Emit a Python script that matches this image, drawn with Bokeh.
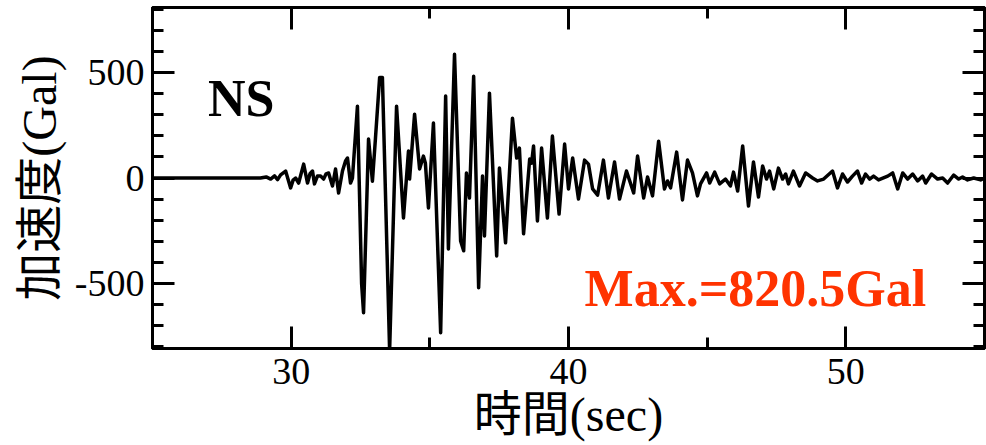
from bokeh.plotting import figure
from bokeh.models import LinearAxis, SingleIntervalTicker, Label, Range1d
from bokeh.embed import file_html
from bokeh.resources import INLINE

# ---- data ----
time_sec = [
    25.00, 28.89, 29.10, 29.26, 29.40, 29.51, 29.62, 29.80, 29.98, 30.07, 30.16, 30.27,
    30.45, 30.59, 30.68, 30.77, 30.84, 30.95, 31.06, 31.17, 31.26, 31.35, 31.49, 31.60,
    31.71, 31.85, 31.96, 32.03, 32.14, 32.21, 32.39, 32.54, 32.61, 32.79, 32.93, 33.04,
    33.19, 33.29, 33.55, 33.80, 34.05, 34.23, 34.27, 34.45, 34.63, 34.77, 34.84, 34.95,
    35.13, 35.39, 35.57, 35.67, 35.89, 36.11, 36.22, 36.32, 36.43, 36.58, 36.76, 36.90,
    36.97, 37.15, 37.41, 37.51, 37.73, 37.98, 38.13, 38.23, 38.38, 38.60, 38.67, 38.74,
    38.88, 39.03, 39.24, 39.42, 39.66, 39.86, 40.00, 40.15, 40.36, 40.58, 40.72, 40.87,
    41.05, 41.26, 41.44, 41.66, 41.84, 42.09, 42.35, 42.49, 42.71, 42.85, 43.03, 43.25,
    43.46, 43.57, 43.68, 43.90, 44.11, 44.29, 44.47, 44.65, 44.76, 44.98, 45.09, 45.27,
    45.45, 45.66, 45.84, 45.95, 46.10, 46.28, 46.49, 46.67, 46.85, 47.00, 47.14, 47.25,
    47.40, 47.57, 47.72, 47.83, 47.93, 48.11, 48.33, 48.55, 48.80, 48.98, 49.20, 49.52,
    49.70, 49.88, 50.06, 50.24, 50.42, 50.57, 50.71, 50.86, 51.00, 51.18, 51.51, 51.69,
    51.87, 52.05, 52.23, 52.41, 52.59, 52.77, 52.88, 53.09, 53.31, 53.49, 53.67, 53.89,
    54.07, 54.21, 54.39, 54.61, 54.86, 55.00,
]
accel_gal = [
    0, 0, 5, -5, 10, -8, 15, 33, -47, -10, 0, -24,
    66, -24, 20, 33, -28, 10, 9, -5, 20, 24, -38, 43,
    -71, 33, 81, 95, -24, 0, 341, -502, -640, 185, -15, 190,
    478, 478, -820.5, 341, -190, 128, -5, 303, 43, 104, 70, -142,
    261, -735, 389, -337, 588, -299, -346, 24, -95, 483, -521, 9,
    -275, 403, -370, 47, -308, 284, 95, 142, -265, 90, 71, 152,
    -204, 142, -190, 199, -171, 161, -52, 95, -100, 85, 66, -52,
    -81, 85, -95, 76, -100, 33, -71, 104, -95, 5, -85, 175,
    -52, -14, -47, 123, -104, 85, 24, -85, -28, 24, -24, 28,
    -28, -5, -38, 28, -62, 152, -133, 76, -90, 57, -5, 33,
    -52, 47, -5, 19, -28, 33, -38, 24, 0, -14, -5, 33,
    -47, 19, -19, 9, 33, -24, 19, -5, 9, -9, 9, 24,
    -52, 24, -5, 19, -14, 9, -24, 19, -5, 0, -24, 14,
    -5, 5, -9, 0, -9, 0,
]
x_ticks_major = 10
y_ticks_major = 500
label_ns = "NS"
label_max = "Max.=820.5Gal"
x_title = "時間(sec)"
y_title = "加速度(Gal)"

SERIF = "'Liberation Serif', 'Noto Sans CJK JP'"

p = figure(width=986, height=445, output_backend="svg", toolbar_location=None,
           x_range=Range1d(25, 55), y_range=Range1d(-810, 810),
           min_border_left=152, min_border_right=2, min_border_top=7, min_border_bottom=97,
           x_axis_type=None, y_axis_type=None)
p.xgrid.visible = False
p.ygrid.visible = False
p.outline_line_color = "black"
p.outline_line_width = 3
p.background_fill_color = "white"
p.border_fill_color = "white"

def make_axis(labels, ticker_interval, minor):
    ax = LinearAxis(ticker=SingleIntervalTicker(interval=ticker_interval, num_minor_ticks=minor))
    ax.axis_line_width = 3
    ax.axis_line_color = "black"
    ax.major_tick_line_width = 3
    ax.minor_tick_line_width = 3
    ax.major_tick_in = 22
    ax.major_tick_out = 0
    ax.minor_tick_in = 11
    ax.minor_tick_out = 0
    if labels:
        ax.major_label_text_font = SERIF
        ax.major_label_text_font_size = "38px"
        ax.major_label_text_color = "black"
    else:
        ax.major_label_text_font_size = "1px"
        ax.major_label_text_color = None
        ax.major_label_standoff = 0
    return ax

xb = make_axis(True, x_ticks_major, 2)
xb.major_label_standoff = 10
xb.axis_label = x_title
xb.axis_label_text_font = SERIF
xb.axis_label_text_font_size = "48px"
xb.axis_label_text_font_style = "normal"
xb.axis_label_text_color = "black"
xb.axis_label_standoff = 1
p.add_layout(xb, "below")

xt = make_axis(False, x_ticks_major, 2)
p.add_layout(xt, "above")

yl = make_axis(True, y_ticks_major, 5)
yl.major_label_standoff = 8
yl.axis_label = y_title
yl.axis_label_text_font = SERIF
yl.axis_label_text_font_size = "48px"
yl.axis_label_text_font_style = "normal"
yl.axis_label_text_color = "black"
yl.axis_label_standoff = 6
yl.major_label_overrides = {-500: "-500"}
p.add_layout(yl, "left")

yr = make_axis(False, y_ticks_major, 5)
p.add_layout(yr, "right")

p.line(time_sec, accel_gal, line_color="black", line_width=3.5, line_join="round")

p.add_layout(Label(x=27.0, y=379, text=label_ns, text_font=SERIF, text_font_size="52px",
                   text_font_style="bold", text_color="black", text_baseline="alphabetic"))
p.add_layout(Label(x=40.58, y=-526, text=label_max, text_font=SERIF, text_font_size="52px",
                   text_font_style="bold", text_color="#FF3300", text_baseline="alphabetic"))

open("out.html", "w").write(file_html(p, INLINE))
